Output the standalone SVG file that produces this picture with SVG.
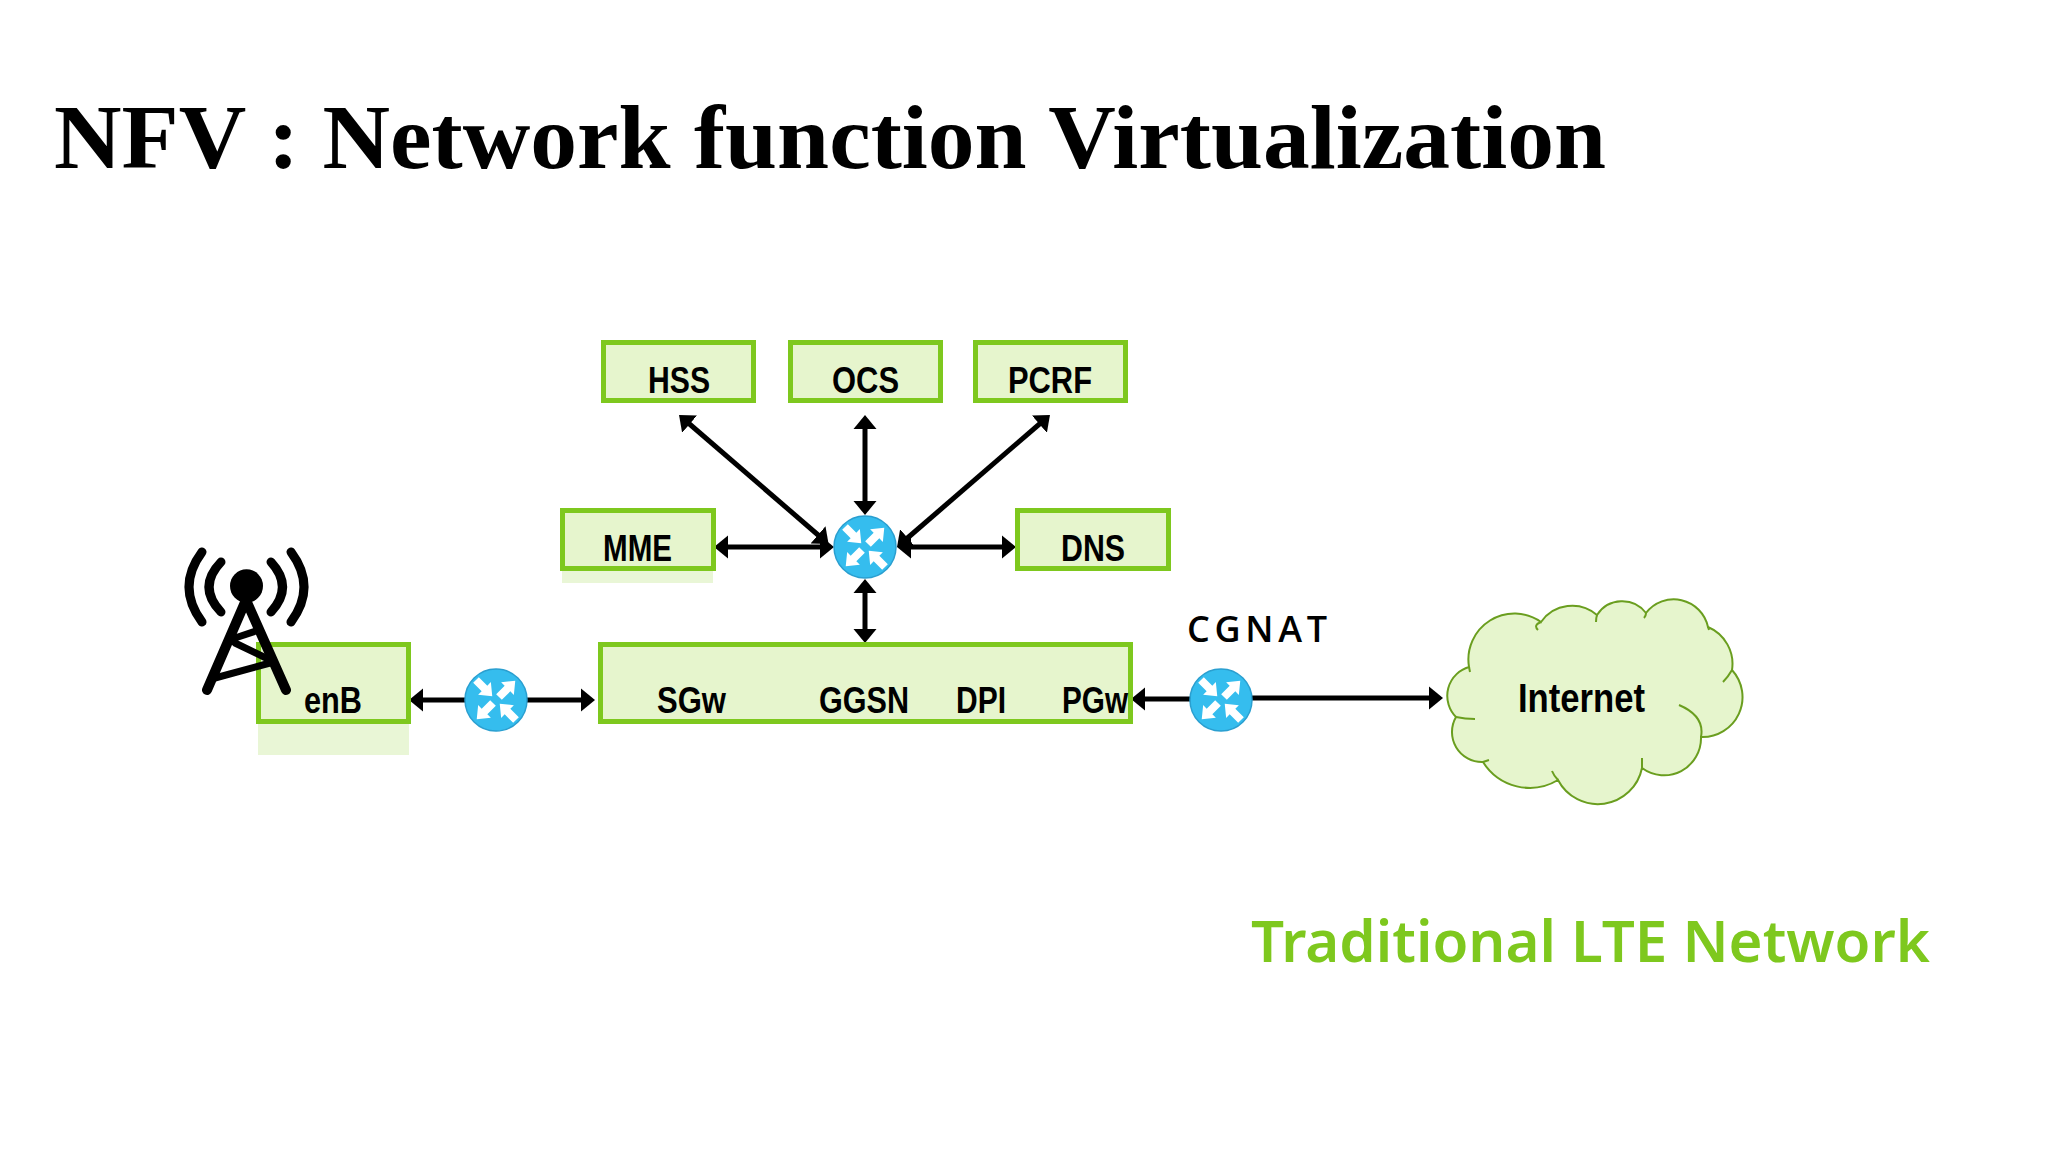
<svg xmlns="http://www.w3.org/2000/svg" xmlns:xlink="http://www.w3.org/1999/xlink" width="2048" height="1152" viewBox="0 0 2048 1152">
<style>
.box{fill:#e6f5cd;stroke:#7ec81e;stroke-width:5}
.shadow{fill:#e9f6d6;stroke:none}
.lbl{font-family:"Liberation Sans",Arial,sans-serif;font-weight:700;font-size:36px;fill:#000}
.conn{stroke:#000;stroke-width:5;fill:none;marker-start:url(#head);marker-end:url(#head)}
.one-s{marker-end:none}
.one-e{marker-start:none}
.hook{fill:none;stroke:#6a9e1f;stroke-width:2}
.tw{fill:none;stroke:#000;stroke-linecap:round}
</style>
<defs>
<marker id="head" markerUnits="userSpaceOnUse" viewBox="0 -12 14 24" refX="4" refY="0" markerWidth="14" markerHeight="24" orient="auto-start-reverse"><path d="M0 -11.5L14 0L0 11.5Z" fill="#000"/></marker>
<polygon id="ar" points="0,-4 12,-4 12,-9 23,0 12,9 12,4 0,4" fill="#fff"/>
<g id="router">
<circle r="31" fill="#35bdee" stroke="#2a9fd0" stroke-width="1.5"/>
<use xlink:href="#ar" href="#ar" transform="translate(3,-3) rotate(-45)"/>
<use xlink:href="#ar" href="#ar" transform="translate(-3,3) rotate(135)"/>
<use xlink:href="#ar" href="#ar" transform="translate(-20,-20) rotate(45)"/>
<use xlink:href="#ar" href="#ar" transform="translate(20,20) rotate(-135)"/>
</g>
</defs>
<rect width="2048" height="1152" fill="#fff"/>
<text id="title" x="54" y="168" font-family="Liberation Serif,Times New Roman,serif" font-weight="700" font-size="92" textLength="1552" lengthAdjust="spacingAndGlyphs" fill="#000">NFV : Network function Virtualization</text>
<g id="connectors">
<line class="conn" x1="865" y1="425" x2="865" y2="505"/>
<line class="conn" x1="865" y1="589" x2="865" y2="633"/>
<line class="conn" x1="907" y1="547" x2="1006" y2="547"/>
<line class="conn" x1="724" y1="547" x2="824" y2="547"/>
<line class="conn" x1="686.6" y1="421.5" x2="821" y2="537.5"/>
<line class="conn" x1="1042.4" y1="421.5" x2="904.6" y2="540.5"/>
<line class="conn one-s" x1="419" y1="700" x2="466" y2="700"/>
<line class="conn one-e" x1="524" y1="700" x2="585" y2="700"/>
<line class="conn one-s" x1="1141" y1="699" x2="1192" y2="699"/>
<line class="conn one-e" x1="1250" y1="698" x2="1433" y2="698"/>
</g>
<g id="node-hss"><rect class="box" x="603.5" y="342.5" width="150" height="58"/><text class="lbl" x="648" y="393" textLength="62" lengthAdjust="spacingAndGlyphs">HSS</text></g>
<g id="node-ocs"><rect class="box" x="790.5" y="342.5" width="150" height="58"/><text class="lbl" x="832" y="393" textLength="67" lengthAdjust="spacingAndGlyphs">OCS</text></g>
<g id="node-pcrf"><rect class="box" x="975.5" y="342.5" width="150" height="58"/><text class="lbl" x="1008" y="393" textLength="84" lengthAdjust="spacingAndGlyphs">PCRF</text></g>
<g id="node-mme"><rect class="shadow" x="562" y="570" width="151" height="13"/><rect class="box" x="562.5" y="510.5" width="151" height="58"/><text class="lbl" x="603" y="561" textLength="69" lengthAdjust="spacingAndGlyphs">MME</text></g>
<g id="node-dns"><rect class="box" x="1017.5" y="510.5" width="151" height="58"/><text class="lbl" x="1061" y="561" textLength="64" lengthAdjust="spacingAndGlyphs">DNS</text></g>
<g id="node-enb"><rect class="shadow" x="258" y="722" width="151" height="33"/><rect class="box" x="258.5" y="644.5" width="150" height="77"/><text class="lbl" x="304" y="713" textLength="58" lengthAdjust="spacingAndGlyphs">enB</text></g>
<g id="node-core"><rect class="box" x="600.5" y="644.5" width="530" height="77"/>
<text class="lbl" x="657" y="713" textLength="69" lengthAdjust="spacingAndGlyphs">SGw</text>
<text class="lbl" x="819" y="713" textLength="90" lengthAdjust="spacingAndGlyphs">GGSN</text>
<text class="lbl" x="956" y="713" textLength="50" lengthAdjust="spacingAndGlyphs">DPI</text>
<text class="lbl" x="1062" y="713" textLength="66" lengthAdjust="spacingAndGlyphs">PGw</text></g>
<g id="node-tower">
<ellipse cx="246.5" cy="586" rx="16.5" ry="16.7" fill="#000"/>
<path class="tw" stroke-width="10" d="M246 600L207 690M246 600L286 690"/>
<path class="tw" stroke-width="7" d="M235 638L259 630M235 643L270 660M215 678L270 663"/>
<path class="tw" stroke-width="9" d="M202 552Q176 587 202 622M221 562Q197 587 221 612M271 562Q294 587 271 612M291 552Q317 587 291 622"/>
</g>
<g id="node-router-a"><use xlink:href="#router" href="#router" x="496" y="700"/></g>
<g id="node-router-b"><use xlink:href="#router" href="#router" x="865" y="547"/></g>
<g id="node-router-c"><use xlink:href="#router" href="#router" x="1221" y="700"/></g>
<g id="node-internet">
<path d="M1469 667A46 46 0 0 1 1541 622A38 38 0 0 1 1597 615A30 30 0 0 1 1646 613A35 35 0 0 1 1708 627A40 40 0 0 1 1732 670A40 40 0 0 1 1701 737A37 37 0 0 1 1642 768A45 45 0 0 1 1558 780A55 55 0 0 1 1483 762A30 30 0 0 1 1456 717A30 30 0 0 1 1469 667Z" fill="#e6f5cd" stroke="#6a9e1f" stroke-width="2"/>
<path class="hook" d="M1541 622Q1533 625 1538 630M1597 615Q1596 618 1596 622M1646 613Q1646 616 1644 618M1708 627L1709 630M1732 670Q1728 677 1723 682M1679 705Q1705 716 1701 737M1642 768L1642 758M1558 780Q1554 776 1552 771M1483 762Q1486 761 1489 760M1456 717Q1465 719 1475 719M1469 667L1470 672"/>
<text class="lbl" x="1518" y="712" font-size="40" style="font-size:40px" textLength="127" lengthAdjust="spacingAndGlyphs">Internet</text></g>
<text id="cgnat" x="1187" y="642" font-family="Open Sans,Noto Sans,sans-serif" font-weight="600" font-size="36" textLength="140" fill="#000">CGNAT</text>
<text id="caption" x="1251" y="962" font-family="Noto Sans,Open Sans,sans-serif" font-weight="600" font-size="58" textLength="679" lengthAdjust="spacingAndGlyphs" fill="#7ec81e">Traditional LTE Network</text>
</svg>
